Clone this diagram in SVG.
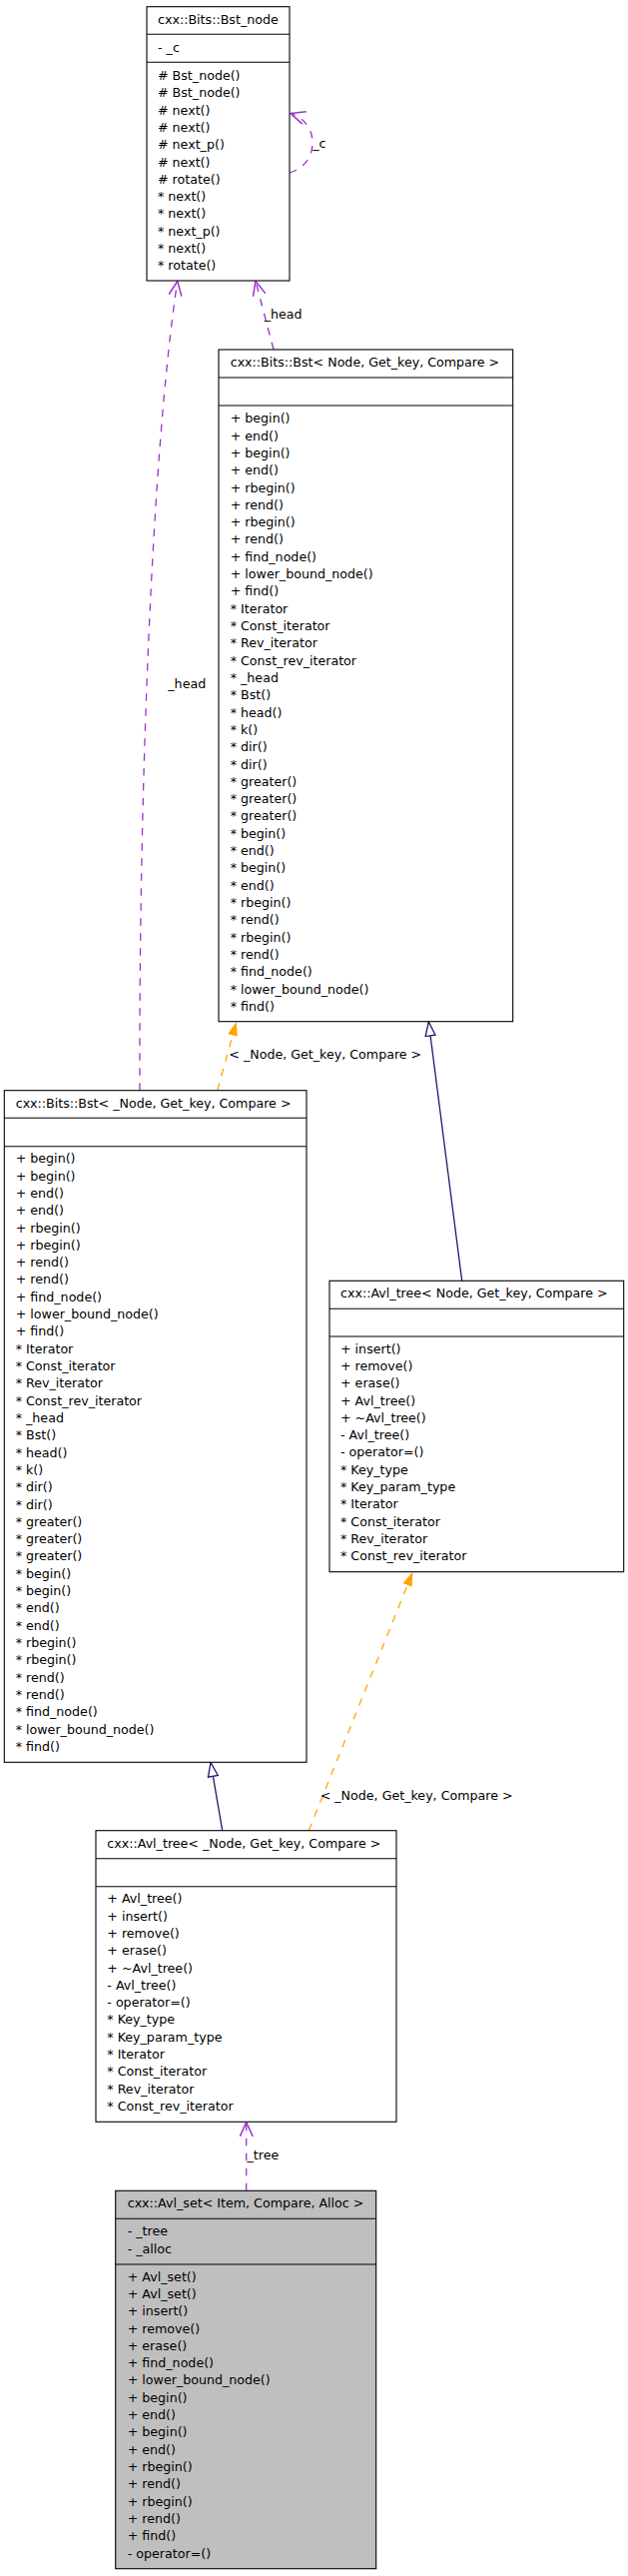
<svg xmlns="http://www.w3.org/2000/svg" width="629" height="2579" viewBox="0 0 629 2579">
<style>
text{font-family:"DejaVu Sans","Liberation Sans",sans-serif;font-size:12.65px;fill:#000}
.box{fill:#fff;stroke:#000;stroke-width:1.1}
.cur{fill:#bfbfbf;stroke:#000;stroke-width:1.1}
.sep{stroke:#000;stroke-width:1.1}
.use{fill:none;stroke:#9a32cd;stroke-width:1.3;stroke-dasharray:7.5,7.5}
.tpl{fill:none;stroke:#ffa500;stroke-width:1.3;stroke-dasharray:7.5,7.5}
.inh{fill:none;stroke:#191970;stroke-width:1.3}
</style>
<defs>
<marker id="mUse" viewBox="0 0 15 14" refX="14.5" refY="7" markerWidth="15" markerHeight="14" markerUnits="userSpaceOnUse" orient="auto">
<path d="M0,0.5 L14.5,7 L0,13.5" fill="none" stroke="#9a32cd" stroke-width="1.5"/>
</marker>
<marker id="mTpl" viewBox="0 0 14 10" refX="14" refY="5" markerWidth="14" markerHeight="10" markerUnits="userSpaceOnUse" orient="auto">
<path d="M0,0 L14,5 L0,10 z" fill="#ffa500"/>
</marker>
<marker id="mInh" viewBox="0 0 16 12" refX="15" refY="6" markerWidth="16" markerHeight="12" markerUnits="userSpaceOnUse" orient="auto">
<path d="M1,1 L15,6 L1,11 z" fill="#fff" stroke="#191970" stroke-width="1.3"/>
</marker>
</defs>

<g id="connectors">
<path class="use" d="M290,173 C305,168 313,157 313,143 C313,129 305,118 291,113.5" marker-end="url(#mUse)"/>
<text x="313.3" y="147.5">_c</text>
<path class="use" d="M274,350 L256,281.5" marker-end="url(#mUse)"/>
<text x="264.7" y="318.6">_head</text>
<path class="use" d="M140,1091.7 C139,800 152,450 177.7,281.5" marker-end="url(#mUse)"/>
<text x="168.3" y="689.3">_head</text>
<path class="tpl" d="M217.7,1091.7 L236.7,1023" marker-end="url(#mTpl)"/>
<text x="229.3" y="1060.3">&lt; _Node, Get_key, Compare &gt;</text>
<path class="inh" d="M462.7,1282.3 L429.3,1023" marker-end="url(#mInh)"/>
<path class="inh" d="M222.7,1832.7 L211,1764.5" marker-end="url(#mInh)"/>
<path class="tpl" d="M309.3,1832.7 L413.3,1574" marker-end="url(#mTpl)"/>
<text x="320.7" y="1801.6">&lt; _Node, Get_key, Compare &gt;</text>
<path class="use" d="M246.7,2193.3 L246.7,2124.6" marker-end="url(#mUse)"/>
<text x="247.5" y="2162">_tree</text>
</g>

<g id="bst_node">
<rect class="box" x="147" y="6.7" width="143" height="274.3"/>
<line class="sep" x1="147" y1="34.3" x2="290" y2="34.3"/>
<line class="sep" x1="147" y1="62.3" x2="290" y2="62.3"/>
<text x="158" y="23.6">cxx::Bits::Bst_node</text>
<text x="158" y="52.3">- _c</text>
<text x="158" y="80"><tspan x="158">#&#160;Bst_node()</tspan><tspan x="158" dy="17.31">#&#160;Bst_node()</tspan><tspan x="158" dy="17.31">#&#160;next()</tspan><tspan x="158" dy="17.31">#&#160;next()</tspan><tspan x="158" dy="17.31">#&#160;next_p()</tspan><tspan x="158" dy="17.31">#&#160;next()</tspan><tspan x="158" dy="17.31">#&#160;rotate()</tspan><tspan x="158" dy="17.31">* next()</tspan><tspan x="158" dy="17.31">* next()</tspan><tspan x="158" dy="17.31">* next_p()</tspan><tspan x="158" dy="17.31">* next()</tspan><tspan x="158" dy="17.31">* rotate()</tspan></text>
</g>

<g id="bst_Node">
<rect class="box" x="219" y="350" width="294.7" height="672.7"/>
<line class="sep" x1="219" y1="378" x2="513.7" y2="378"/>
<line class="sep" x1="219" y1="406" x2="513.7" y2="406"/>
<text x="230.7" y="367">cxx::Bits::Bst&lt; Node, Get_key, Compare &gt;</text>
<text x="230.7" y="423.3"><tspan x="230.7">+ begin()</tspan><tspan x="230.7" dy="17.31">+ end()</tspan><tspan x="230.7" dy="17.31">+ begin()</tspan><tspan x="230.7" dy="17.31">+ end()</tspan><tspan x="230.7" dy="17.31">+ rbegin()</tspan><tspan x="230.7" dy="17.31">+ rend()</tspan><tspan x="230.7" dy="17.31">+ rbegin()</tspan><tspan x="230.7" dy="17.31">+ rend()</tspan><tspan x="230.7" dy="17.31">+ find_node()</tspan><tspan x="230.7" dy="17.31">+ lower_bound_node()</tspan><tspan x="230.7" dy="17.31">+ find()</tspan><tspan x="230.7" dy="17.31">* Iterator</tspan><tspan x="230.7" dy="17.31">* Const_iterator</tspan><tspan x="230.7" dy="17.31">* Rev_iterator</tspan><tspan x="230.7" dy="17.31">* Const_rev_iterator</tspan><tspan x="230.7" dy="17.31">* _head</tspan><tspan x="230.7" dy="17.31">* Bst()</tspan><tspan x="230.7" dy="17.31">* head()</tspan><tspan x="230.7" dy="17.31">* k()</tspan><tspan x="230.7" dy="17.31">* dir()</tspan><tspan x="230.7" dy="17.31">* dir()</tspan><tspan x="230.7" dy="17.31">* greater()</tspan><tspan x="230.7" dy="17.31">* greater()</tspan><tspan x="230.7" dy="17.31">* greater()</tspan><tspan x="230.7" dy="17.31">* begin()</tspan><tspan x="230.7" dy="17.31">* end()</tspan><tspan x="230.7" dy="17.31">* begin()</tspan><tspan x="230.7" dy="17.31">* end()</tspan><tspan x="230.7" dy="17.31">* rbegin()</tspan><tspan x="230.7" dy="17.31">* rend()</tspan><tspan x="230.7" dy="17.31">* rbegin()</tspan><tspan x="230.7" dy="17.31">* rend()</tspan><tspan x="230.7" dy="17.31">* find_node()</tspan><tspan x="230.7" dy="17.31">* lower_bound_node()</tspan><tspan x="230.7" dy="17.31">* find()</tspan></text>
</g>

<g id="bst__Node">
<rect class="box" x="4.3" y="1091.7" width="302.7" height="672.6"/>
<line class="sep" x1="4.3" y1="1119.3" x2="307" y2="1119.3"/>
<line class="sep" x1="4.3" y1="1147.7" x2="307" y2="1147.7"/>
<text x="15.7" y="1108.6">cxx::Bits::Bst&lt; _Node, Get_key, Compare &gt;</text>
<text x="15.7" y="1164.3"><tspan x="15.7">+ begin()</tspan><tspan x="15.7" dy="17.31">+ begin()</tspan><tspan x="15.7" dy="17.31">+ end()</tspan><tspan x="15.7" dy="17.31">+ end()</tspan><tspan x="15.7" dy="17.31">+ rbegin()</tspan><tspan x="15.7" dy="17.31">+ rbegin()</tspan><tspan x="15.7" dy="17.31">+ rend()</tspan><tspan x="15.7" dy="17.31">+ rend()</tspan><tspan x="15.7" dy="17.31">+ find_node()</tspan><tspan x="15.7" dy="17.31">+ lower_bound_node()</tspan><tspan x="15.7" dy="17.31">+ find()</tspan><tspan x="15.7" dy="17.31">* Iterator</tspan><tspan x="15.7" dy="17.31">* Const_iterator</tspan><tspan x="15.7" dy="17.31">* Rev_iterator</tspan><tspan x="15.7" dy="17.31">* Const_rev_iterator</tspan><tspan x="15.7" dy="17.31">* _head</tspan><tspan x="15.7" dy="17.31">* Bst()</tspan><tspan x="15.7" dy="17.31">* head()</tspan><tspan x="15.7" dy="17.31">* k()</tspan><tspan x="15.7" dy="17.31">* dir()</tspan><tspan x="15.7" dy="17.31">* dir()</tspan><tspan x="15.7" dy="17.31">* greater()</tspan><tspan x="15.7" dy="17.31">* greater()</tspan><tspan x="15.7" dy="17.31">* greater()</tspan><tspan x="15.7" dy="17.31">* begin()</tspan><tspan x="15.7" dy="17.31">* begin()</tspan><tspan x="15.7" dy="17.31">* end()</tspan><tspan x="15.7" dy="17.31">* end()</tspan><tspan x="15.7" dy="17.31">* rbegin()</tspan><tspan x="15.7" dy="17.31">* rbegin()</tspan><tspan x="15.7" dy="17.31">* rend()</tspan><tspan x="15.7" dy="17.31">* rend()</tspan><tspan x="15.7" dy="17.31">* find_node()</tspan><tspan x="15.7" dy="17.31">* lower_bound_node()</tspan><tspan x="15.7" dy="17.31">* find()</tspan></text>
</g>

<g id="avl_tree_Node">
<rect class="box" x="330" y="1282.3" width="294.7" height="291.4"/>
<line class="sep" x1="330" y1="1310.3" x2="624.7" y2="1310.3"/>
<line class="sep" x1="330" y1="1338" x2="624.7" y2="1338"/>
<text x="341" y="1299">cxx::Avl_tree&lt; Node, Get_key, Compare &gt;</text>
<text x="341" y="1354.6"><tspan x="341">+ insert()</tspan><tspan x="341" dy="17.31">+ remove()</tspan><tspan x="341" dy="17.31">+ erase()</tspan><tspan x="341" dy="17.31">+ Avl_tree()</tspan><tspan x="341" dy="17.31">+ ~Avl_tree()</tspan><tspan x="341" dy="17.31">- Avl_tree()</tspan><tspan x="341" dy="17.31">- operator=()</tspan><tspan x="341" dy="17.31">* Key_type</tspan><tspan x="341" dy="17.31">* Key_param_type</tspan><tspan x="341" dy="17.31">* Iterator</tspan><tspan x="341" dy="17.31">* Const_iterator</tspan><tspan x="341" dy="17.31">* Rev_iterator</tspan><tspan x="341" dy="17.31">* Const_rev_iterator</tspan></text>
</g>

<g id="avl_tree__Node">
<rect class="box" x="96" y="1832.7" width="301" height="291.6"/>
<line class="sep" x1="96" y1="1860.7" x2="397" y2="1860.7"/>
<line class="sep" x1="96" y1="1888.7" x2="397" y2="1888.7"/>
<text x="107.3" y="1850">cxx::Avl_tree&lt; _Node, Get_key, Compare &gt;</text>
<text x="107.3" y="1905.3"><tspan x="107.3">+ Avl_tree()</tspan><tspan x="107.3" dy="17.31">+ insert()</tspan><tspan x="107.3" dy="17.31">+ remove()</tspan><tspan x="107.3" dy="17.31">+ erase()</tspan><tspan x="107.3" dy="17.31">+ ~Avl_tree()</tspan><tspan x="107.3" dy="17.31">- Avl_tree()</tspan><tspan x="107.3" dy="17.31">- operator=()</tspan><tspan x="107.3" dy="17.31">* Key_type</tspan><tspan x="107.3" dy="17.31">* Key_param_type</tspan><tspan x="107.3" dy="17.31">* Iterator</tspan><tspan x="107.3" dy="17.31">* Const_iterator</tspan><tspan x="107.3" dy="17.31">* Rev_iterator</tspan><tspan x="107.3" dy="17.31">* Const_rev_iterator</tspan></text>
</g>

<g id="avl_set">
<rect class="cur" x="115.7" y="2193.3" width="261" height="378.4"/>
<line class="sep" x1="115.7" y1="2221.3" x2="376.7" y2="2221.3"/>
<line class="sep" x1="115.7" y1="2267" x2="376.7" y2="2267"/>
<text x="127.7" y="2210.3">cxx::Avl_set&lt; Item, Compare, Alloc &gt;</text>
<text x="127.7" y="2238.3"><tspan x="127.7">- _tree</tspan><tspan x="127.7" dy="17.31">- _alloc</tspan></text>
<text x="127.7" y="2283.6"><tspan x="127.7">+ Avl_set()</tspan><tspan x="127.7" dy="17.31">+ Avl_set()</tspan><tspan x="127.7" dy="17.31">+ insert()</tspan><tspan x="127.7" dy="17.31">+ remove()</tspan><tspan x="127.7" dy="17.31">+ erase()</tspan><tspan x="127.7" dy="17.31">+ find_node()</tspan><tspan x="127.7" dy="17.31">+ lower_bound_node()</tspan><tspan x="127.7" dy="17.31">+ begin()</tspan><tspan x="127.7" dy="17.31">+ end()</tspan><tspan x="127.7" dy="17.31">+ begin()</tspan><tspan x="127.7" dy="17.31">+ end()</tspan><tspan x="127.7" dy="17.31">+ rbegin()</tspan><tspan x="127.7" dy="17.31">+ rend()</tspan><tspan x="127.7" dy="17.31">+ rbegin()</tspan><tspan x="127.7" dy="17.31">+ rend()</tspan><tspan x="127.7" dy="17.31">+ find()</tspan><tspan x="127.7" dy="17.31">- operator=()</tspan></text>
</g>
</svg>
